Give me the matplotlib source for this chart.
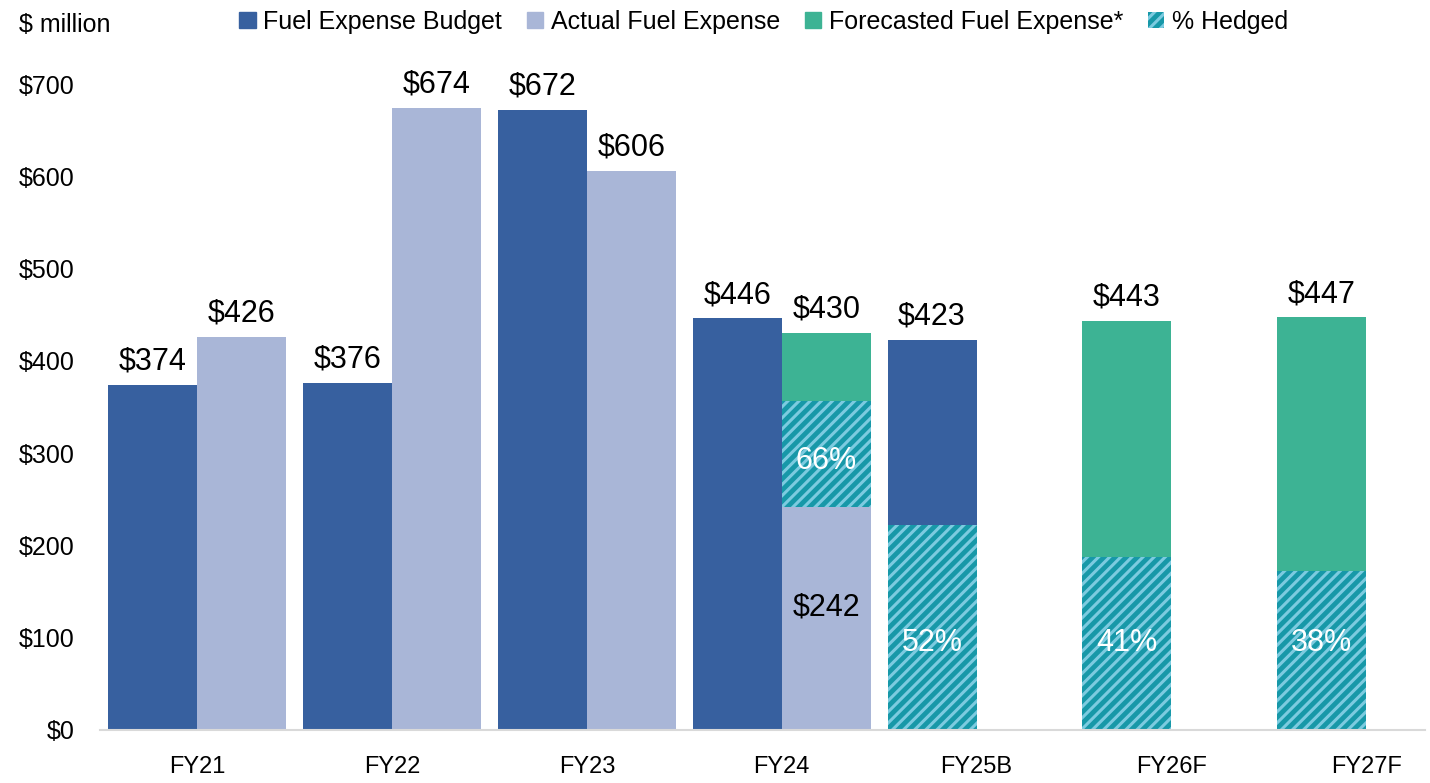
import numpy as np
import matplotlib
matplotlib.use('Agg')
import matplotlib.pyplot as plt
from matplotlib.patches import Patch

# data ($ million)
years = ['FY21', 'FY22', 'FY23', 'FY24', 'FY25B', 'FY26F', 'FY27F']
budget = [374, 376, 672, 446, 423]              # FY21..FY25B
actual = [426, 674, 606, 242]                   # FY21..FY24
fc_years = ['FY24', 'FY26F', 'FY27F']           # forecast bars
fc_total = [430, 443, 447]
hedge_years = ['FY24', 'FY25B', 'FY26F', 'FY27F']
hedge_bottom = [242, 0, 0, 0]
hedge_top = [356, 222, 187, 172]
hedge_pct = ['66%', '52%', '41%', '38%']

c_budget = '#37609f'
c_actual = '#a9b6d7'
c_fc = '#3db394'
c_hedge = '#1798a8'
c_stripe = '#7ccbe0'

plt.rcParams['font.family'] = ['Liberation Sans', 'DejaVu Sans']
plt.rcParams['hatch.linewidth'] = 2.2
narrow = ['Liberation Sans Narrow', 'Liberation Sans']

fig = plt.figure(figsize=(14.3, 7.83), dpi=100)
ax = fig.add_axes([0.0699, 0.0677, 0.9266, 0.825])

w = 0.457
x = np.arange(len(years))
pos = {y: i for i, y in enumerate(years)}
lab_kw = dict(ha='center', va='bottom', fontsize=22, textcoords='offset points', xytext=(0, 6))

# budget bars (left slot)
xb = x[:len(budget)] - w / 2
ax.bar(xb, budget, w, color=c_budget)
for xi, v in zip(xb, budget):
    ax.annotate('$%d' % v, (xi, v), **lab_kw)

# actual bars (right slot)
xa = x[:len(actual)] + w / 2
ax.bar(xa, actual, w, color=c_actual)
for xi, v in zip(xa[:3], actual[:3]):
    ax.annotate('$%d' % v, (xi, v), **lab_kw)
ax.text(xa[3], actual[3] * 0.55, '$%d' % actual[3], ha='center', va='center', fontsize=22)

# forecast bars: FY24 sits on top of actual in right slot, others in left slot
xf = [pos[y] + w / 2 if y == 'FY24' else pos[y] - w / 2 for y in fc_years]
fb = [actual[3] if y == 'FY24' else 0 for y in fc_years]
ax.bar(xf, np.array(fc_total) - np.array(fb), w, bottom=fb, color=c_fc)
for xi, v in zip(xf, fc_total):
    ax.annotate('$%d' % v, (xi, v), **lab_kw)

# hedged portions
xh = [pos[y] + w / 2 if y == 'FY24' else pos[y] - w / 2 for y in hedge_years]
hh = np.array(hedge_top) - np.array(hedge_bottom)
ax.bar(xh, hh, w, bottom=hedge_bottom, color=c_hedge, edgecolor=c_stripe,
       hatch='///', linewidth=0)
for xi, b, t, p in zip(xh, hedge_bottom, hedge_top, hedge_pct):
    yy = (b + t) / 2 - 8 if b > 0 else 94
    ax.text(xi, yy, p, ha='center', va='center', fontsize=22, color='white')

ax.set_xlim(-0.5, 6.302)
ax.set_ylim(0, 700)
ax.set_xticks(x)
ax.set_xticklabels(years, fontsize=17)
ax.set_yticks(range(0, 701, 100))
ax.set_yticklabels(['$%d' % v for v in range(0, 701, 100)], fontsize=18)
ax.tick_params(axis='x', length=0, pad=19)
ax.tick_params(axis='y', length=0, pad=18)
for s in ['left', 'right', 'top']:
    ax.spines[s].set_visible(False)
ax.spines['bottom'].set_color('#d9d9d9')
ax.spines['bottom'].set_linewidth(1.5)

fig.text(0.013, 0.968, '$ million', fontsize=18, va='center', family=narrow)

handles = [Patch(color=c_budget), Patch(color=c_actual), Patch(color=c_fc),
           Patch(facecolor=c_hedge, edgecolor=c_stripe, hatch='///', linewidth=0)]
names = ['Fuel Expense Budget', 'Actual Fuel Expense', 'Forecasted Fuel Expense*', '% Hedged']
fig.legend(handles, names, loc='center', bbox_to_anchor=(0.534, 0.972), ncol=4,
           frameon=False, handlelength=0.65, handleheight=0.65, handletextpad=0.3,
           columnspacing=1.0, prop={'family': narrow, 'size': 18})

fig.savefig('out.png', dpi=100)
